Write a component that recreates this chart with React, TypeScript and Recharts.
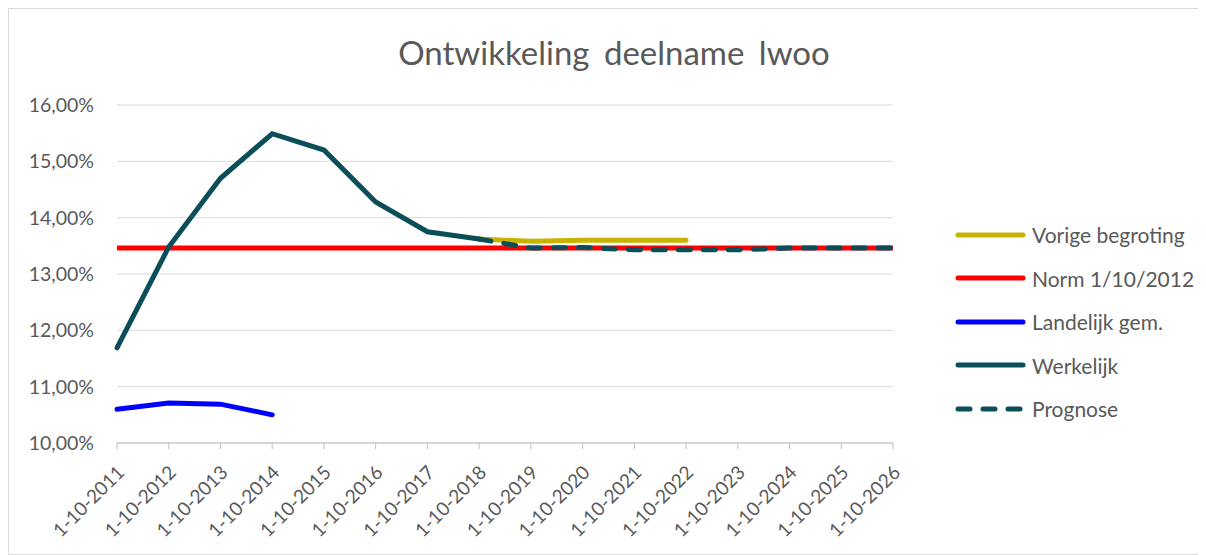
import { LineChart, Line, XAxis, YAxis, CartesianGrid } from 'recharts'

const years = [
  '1-10-2011', '1-10-2012', '1-10-2013', '1-10-2014', '1-10-2015', '1-10-2016', '1-10-2017', '1-10-2018',
  '1-10-2019', '1-10-2020', '1-10-2021', '1-10-2022', '1-10-2023', '1-10-2024', '1-10-2025', '1-10-2026',
]
const vorigeBegroting = [null, null, null, null, null, null, null, 13.62, 13.58, 13.6, 13.6, 13.6, null, null, null, null]
const norm = [13.46, 13.46, 13.46, 13.46, 13.46, 13.46, 13.46, 13.46, 13.46, 13.46, 13.46, 13.46, 13.46, 13.46, 13.46, 13.46]
const landelijk = [10.6, 10.71, 10.69, 10.5, null, null, null, null, null, null, null, null, null, null, null, null]
const werkelijk = [11.69, 13.48, 14.7, 15.49, 15.2, 14.28, 13.75, 13.62, null, null, null, null, null, null, null, null]
const prognose = [null, null, null, null, null, null, null, 13.62, 13.46, 13.47, 13.43, 13.43, 13.43, 13.46, 13.46, 13.46]
const yTicks = [10, 11, 12, 13, 14, 15, 16]

const data = years.map((year, i) => ({
  year,
  vorige: vorigeBegroting[i],
  norm: norm[i],
  landelijk: landelijk[i],
  werkelijk: werkelijk[i],
  prognose: prognose[i],
}))

const FONT = 'Lato, "Liberation Sans", sans-serif'
const GREY = '#595959'

const legendItems = [
  { label: 'Vorige begroting', color: '#c8b400', dash: false },
  { label: 'Norm 1/10/2012', color: '#ff0000', dash: false },
  { label: 'Landelijk gem.', color: '#0000ff', dash: false },
  { label: 'Werkelijk', color: '#0b4e59', dash: false },
  { label: 'Prognose', color: '#0b4e59', dash: true },
]

const pct = (v: number) => `${v.toFixed(2).replace('.', ',')}%`

function LegendBox() {
  return (
    <div style={{ position: 'absolute', left: 946, top: 204 }}>
      {legendItems.map((it) => (
        <div key={it.label} style={{ display: 'flex', alignItems: 'center', height: 43.5 }}>
          <svg width={72} height={10}>
            <line
              x1={3} y1={5} x2={68} y2={5}
              stroke={it.color} strokeWidth={5} strokeLinecap="round"
              strokeDasharray={it.dash ? '12 13' : undefined}
            />
          </svg>
          <span style={{ fontFamily: FONT, fontSize: 21, color: GREY, marginLeft: 5 }}>{it.label}</span>
        </div>
      ))}
    </div>
  )
}

function XTick({ x, y, payload }: any) {
  return (
    <text
      x={x} y={y} transform={`rotate(-45 ${x} ${y})`} dx={-10} dy={22}
      textAnchor="end" fill={GREY} fontSize={19} fontFamily={FONT}
    >
      {payload.value}
    </text>
  )
}

export default function App() {
  return (
    <div style={{ position: 'relative', width: 1198, height: 547, border: '1px solid #d9d9d9', boxSizing: 'border-box', background: '#fff' }}>
      <div style={{ position: 'absolute', left: 14, right: 0, top: 23, textAlign: 'center', fontFamily: FONT, fontSize: 33, color: GREY, wordSpacing: 6 }}>
        Ontwikkeling deelname lwoo
      </div>
      <LegendBox />
      <LineChart width={1196} height={545} data={data} margin={{ top: 96, right: 312, left: 28, bottom: 11 }}>
        <CartesianGrid vertical={false} stroke="#d9d9d9" />
        <XAxis
          dataKey="year" interval={0} height={100} tick={<XTick />}
          stroke="#bfbfbf" tickLine={{ stroke: '#bfbfbf' }} tickSize={6}
        />
        <YAxis
          domain={[10, 16]} ticks={yTicks} tickFormatter={pct} width={80}
          axisLine={false} tickLine={false} tickMargin={17}
          tick={{ fill: GREY, fontSize: 19.5, fontFamily: FONT }}
        />
        <Line dataKey="norm" stroke="#ff0000" strokeWidth={5} dot={false} isAnimationActive={false} />
        <Line dataKey="vorige" stroke="#c8b400" strokeWidth={5} strokeLinecap="round" dot={false} isAnimationActive={false} />
        <Line dataKey="landelijk" stroke="#0000ff" strokeWidth={5} strokeLinecap="round" dot={false} isAnimationActive={false} />
        <Line dataKey="werkelijk" stroke="#0b4e59" strokeWidth={5} strokeLinecap="round" dot={false} isAnimationActive={false} />
        <Line dataKey="prognose" stroke="#0b4e59" strokeWidth={5} strokeLinecap="round" strokeDasharray="12 13" dot={false} isAnimationActive={false} />
      </LineChart>
    </div>
  )
}
